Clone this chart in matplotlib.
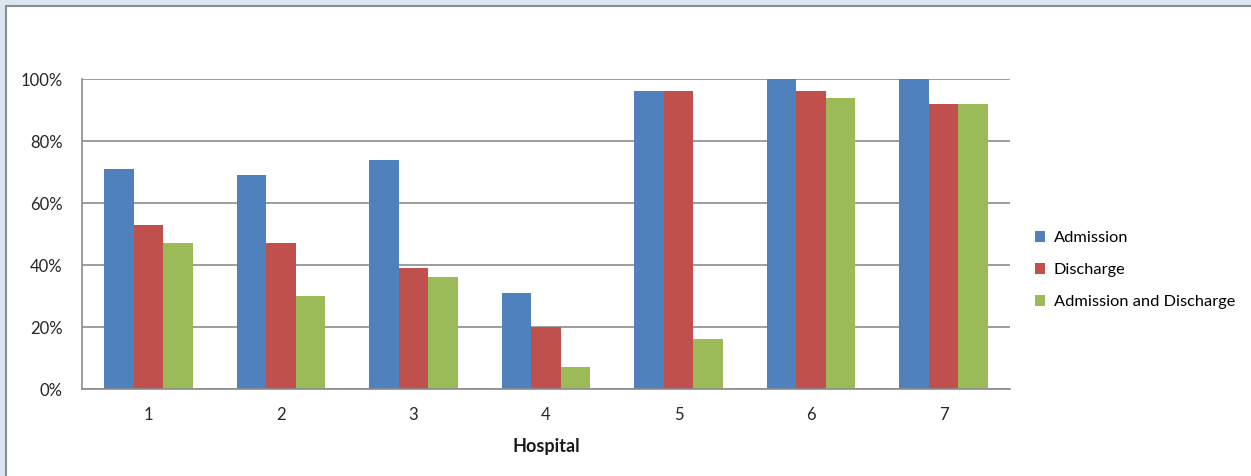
import matplotlib.pyplot as plt
from matplotlib.patches import Rectangle
import numpy as np

plt.rcParams['font.family'] = ['Lato', 'DejaVu Sans']

# Data (percent of patients)
hospitals = ['1', '2', '3', '4', '5', '6', '7']
admission = [71, 69, 74, 31, 96, 100, 100]
discharge = [53, 47, 39, 20, 96, 96, 92]
both = [47, 30, 36, 7, 16, 94, 92]
series_names = ['Admission', 'Discharge', 'Admission and Discharge']
colors = ['#4F81BD', '#C0504D', '#9BBB59']

fig = plt.figure(figsize=(12.51, 4.76), dpi=100)
fig.patch.set_facecolor('#DCE6F2')
# white chart area with grey frame on top/left
fig.patches.append(Rectangle((6 / 1251, -0.01), 1.01, (470 / 476) + 0.01,
                             transform=fig.transFigure, facecolor='white',
                             edgecolor='#8C8C8C', linewidth=1.5, zorder=-5))

ax = fig.add_axes([82 / 1251, 87 / 476, 928 / 1251, 310 / 476])
ax.set_facecolor('none')

x = np.arange(len(hospitals))
w = 0.223
for i, (vals, name, c) in enumerate(zip([admission, discharge, both], series_names, colors)):
    ax.bar(x + (i - 1) * w, vals, width=w, color=c, label=name, zorder=2)

ax.set_xlim(-0.5, len(hospitals) - 0.5)
ax.set_ylim(0, 100)
ax.set_yticks([0, 20, 40, 60, 80, 100])
ax.set_yticklabels([f'{v}%' for v in [0, 20, 40, 60, 80, 100]])
ax.set_xticks(x)
ax.set_xticklabels(hospitals)
ax.tick_params(length=0, labelsize=12, colors='#262626', pad=13)
ax.tick_params(axis='y', pad=14)
ax.grid(axis='y', color='#8C8C8C', linewidth=1.2, zorder=1)
for s in ['top', 'right']:
    ax.spines[s].set_visible(False)
for s in ['left', 'bottom']:
    ax.spines[s].set_color('#8C8C8C')
    ax.spines[s].set_linewidth(1.2)
ax.set_xlabel('Hospital', fontsize=13, fontweight='bold', color='#1a1a1a', labelpad=11)

fig.legend(loc='center left', bbox_to_anchor=(1020 / 1251, 206 / 476), frameon=False,
           fontsize=11.8, handlelength=0.65, handleheight=0.65, handletextpad=0.5,
           labelspacing=1.1)

fig.savefig('out.png', dpi=100, facecolor=fig.get_facecolor())
